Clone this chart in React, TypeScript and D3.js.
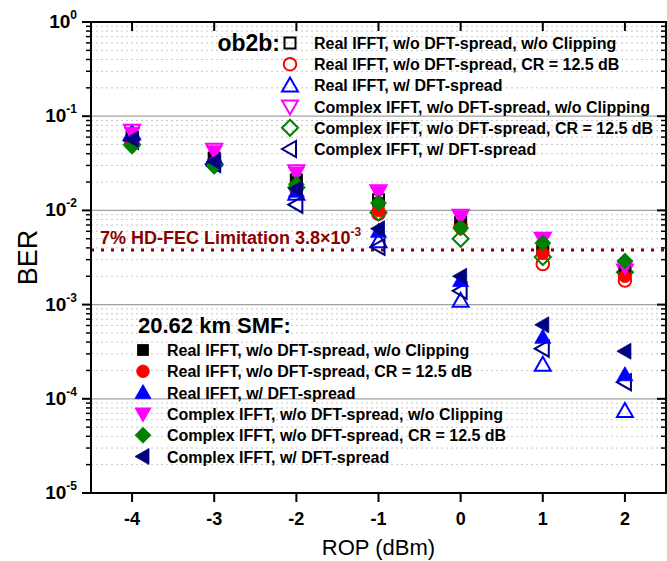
import React from "react";
import * as d3 from "d3";

// Received optical power (dBm)
const rop = [-4, -3, -2, -1, 0, 1, 2];

// Optical back-to-back (open markers)
const realNoClipB2B = [0.06, 0.036, 0.021, 0.013, 0.0075, 0.004, 0.0022];
const realCRB2B = [0.055, 0.033, 0.017, 0.0092, 0.0068, 0.0027, 0.0018];
const realDftB2B = [0.066, 0.036, 0.015, 0.0047, 0.0011, 0.00023, 0.000074];
const complexNoClipB2B = [0.07, 0.044, 0.026, 0.016, 0.0088, 0.005, 0.0023];
const complexCRB2B = [0.05, 0.03, 0.0175, 0.0095, 0.005, 0.0032, 0.0022];
const complexDftB2B = [0.055, 0.031, 0.0115, 0.0041, 0.0014, 0.00034, 0.00015];

// After 20.62 km SMF (filled markers)
const realNoClipSMF = [0.058, 0.035, 0.02, 0.012, 0.007, 0.0042, 0.0024];
const realCRSMF = [0.052, 0.032, 0.018, 0.01, 0.0065, 0.0035, 0.002];
const realDftSMF = [0.063, 0.034, 0.016, 0.006, 0.0018, 0.00045, 0.00018];
const complexNoClipSMF = [0.066, 0.042, 0.025, 0.0155, 0.0085, 0.005, 0.0025];
const complexCRSMF = [0.048, 0.03, 0.019, 0.012, 0.0065, 0.0045, 0.0029];
const complexDftSMF = [0.057, 0.033, 0.017, 0.0064, 0.002, 0.00061, 0.00032];

const seriesLabels = [
  "Real IFFT, w/o DFT-spread, w/o Clipping",
  "Real IFFT, w/o DFT-spread, CR = 12.5 dB",
  "Real IFFT, w/ DFT-spread",
  "Complex IFFT, w/o DFT-spread, w/o Clipping",
  "Complex IFFT, w/o DFT-spread, CR = 12.5 dB",
  "Complex IFFT, w/ DFT-spread",
];
const seriesColors = ["#000000", "#ff0000", "#0000ff", "#ff00ff", "#008000", "#000080"];
const seriesShapes = ["square", "circle", "up", "down", "diamond", "left"];

const yTickExps = [0, -1, -2, -3, -4, -5];
const xTicks = [-4, -3, -2, -1, 0, 1, 2];
const fecLimit = 3.8e-3;

const W = 667;
const H = 561;
const left = 91;
const right = 666;
const top = 22;
const bottom = 493;

const FONT = "'Liberation Sans', Arial, Helvetica, sans-serif";

function markerPath(shape: string): string {
  switch (shape) {
    case "square":
      return "M-5.5,-5.5H5.5V5.5H-5.5Z";
    case "circle":
      return d3.arc()({ innerRadius: 0, outerRadius: 6.3, startAngle: 0, endAngle: 2 * Math.PI }) as string;
    case "up":
      return "M0,-8L8,6H-8Z";
    case "down":
      return "M0,8L8,-6H-8Z";
    case "diamond":
      return "M0,-8L8,0L0,8L-8,0Z";
    case "left":
      return "M-8,0L6,-8V8Z";
    default:
      return "";
  }
}

function Marker({ x, y, shape, color, filled }: { x: number; y: number; shape: string; color: string; filled: boolean }) {
  return (
    <path
      transform={`translate(${x},${y})`}
      d={markerPath(shape)}
      fill={filled ? color : "none"}
      stroke={color}
      strokeWidth={filled ? 0.8 : 2}
      strokeLinejoin="miter"
    />
  );
}

export default function App() {
  const x = d3.scaleLinear().domain([-4.5, 2.5]).range([left, right]);
  const y = d3.scaleLog().domain([1e-5, 1]).range([bottom, top]);

  const b2b = [realNoClipB2B, realCRB2B, realDftB2B, complexNoClipB2B, complexCRB2B, complexDftB2B];
  const smf = [realNoClipSMF, realCRSMF, realDftSMF, complexNoClipSMF, complexCRSMF, complexDftSMF];

  const majors: number[] = [];
  const minors: number[] = [];
  for (let e = -5; e < 0; e++) {
    if (e > -5) majors.push(Math.pow(10, e));
    for (let m = 2; m <= 9; m++) minors.push(m * Math.pow(10, e));
  }

  const fecY = y(fecLimit);

  return (
    <svg width={W} height={H} style={{ position: "absolute", left: 0, top: 0, background: "#fff" }} fontFamily={FONT}>
      <rect width={W} height={H} fill="#fff" />
      {/* grid */}
      {minors.map((v, i) => (
        <line key={"mn" + i} x1={left} x2={right} y1={y(v)} y2={y(v)} stroke="#c8c8c8" strokeWidth={1} strokeDasharray="2,3" />
      ))}
      {majors.map((v, i) => (
        <line key={"mj" + i} x1={left} x2={right} y1={y(v)} y2={y(v)} stroke="#a0a0a0" strokeWidth={1.2} />
      ))}

      {/* HD-FEC threshold */}
      <line x1={left} x2={right} y1={fecY} y2={fecY} stroke="#8b0000" strokeWidth={3} strokeDasharray="3,7" />
      <text x={100} y={fecY - 6} fill="#8b0000" fontSize={18} fontWeight="bold">
        7% HD-FEC Limitation 3.8×10
        <tspan dy={-8} fontSize={12}>-3</tspan>
      </text>

      {/* data: back-to-back then fiber */}
      {b2b.map((vals, si) =>
        vals.map((v, i) => (
          <Marker key={`b${si}-${i}`} x={x(rop[i])} y={y(v)} shape={seriesShapes[si]} color={seriesColors[si]} filled={false} />
        ))
      )}
      {smf.map((vals, si) =>
        vals.map((v, i) => (
          <Marker key={`s${si}-${i}`} x={x(rop[i])} y={y(v)} shape={seriesShapes[si]} color={seriesColors[si]} filled={true} />
        ))
      )}

      {/* frame */}
      <rect x={left} y={top} width={right - left} height={bottom - top} fill="none" stroke="#000" strokeWidth={2} />

      {/* y ticks: outward on left, inward on right */}
      {yTickExps.map((e) => {
        const yy = y(Math.pow(10, e));
        return (
          <g key={"yt" + e}>
            <line x1={left - 9} x2={left} y1={yy} y2={yy} stroke="#000" strokeWidth={2} />
            <line x1={right - 9} x2={right} y1={yy} y2={yy} stroke="#000" strokeWidth={2} />
            <text x={77} y={yy + 6} textAnchor="end" fontSize={19} fontWeight="bold">
              10
              <tspan dy={-9} fontSize={12}>{e}</tspan>
            </text>
          </g>
        );
      })}
      {minors.map((v, i) => (
        <g key={"ymt" + i}>
          <line x1={left - 5} x2={left} y1={y(v)} y2={y(v)} stroke="#000" strokeWidth={1.5} />
          <line x1={right - 5} x2={right} y1={y(v)} y2={y(v)} stroke="#000" strokeWidth={1.5} />
        </g>
      ))}

      {/* x ticks: outward on bottom, inward on top */}
      {xTicks.map((t) => (
        <g key={"xt" + t}>
          <line x1={x(t)} x2={x(t)} y1={bottom} y2={bottom + 9} stroke="#000" strokeWidth={2} />
          <line x1={x(t)} x2={x(t)} y1={top} y2={top + 9} stroke="#000" strokeWidth={2} />
          <text x={x(t)} y={525} textAnchor="middle" fontSize={18} fontWeight="bold">
            {t}
          </text>
        </g>
      ))}

      {/* axis titles */}
      <text x={(left + right) / 2} y={555} textAnchor="middle" fontSize={22}>
        ROP (dBm)
      </text>
      <text transform={`translate(37,${(top + bottom) / 2}) rotate(-90)`} textAnchor="middle" fontSize={27}>
        BER
      </text>

      {/* legend: back-to-back */}
      <text x={280} y={51} textAnchor="end" fontSize={23} fontWeight="bold">
        ob2b:
      </text>
      {seriesLabels.map((lab, i) => (
        <g key={"lb" + i}>
          <Marker x={290} y={43 + i * 21.2} shape={seriesShapes[i]} color={seriesColors[i]} filled={false} />
          <text x={314} y={49 + i * 21.2} fontSize={16} fontWeight="bold">
            {lab}
          </text>
        </g>
      ))}

      {/* legend: fiber transmission */}
      <text x={138} y={333} fontSize={22} fontWeight="bold">
        20.62 km SMF:
      </text>
      {seriesLabels.map((lab, i) => (
        <g key={"ls" + i}>
          <Marker x={143} y={350 + i * 21.3} shape={seriesShapes[i]} color={seriesColors[i]} filled={true} />
          <text x={167} y={356 + i * 21.3} fontSize={16} fontWeight="bold">
            {lab}
          </text>
        </g>
      ))}
    </svg>
  );
}
